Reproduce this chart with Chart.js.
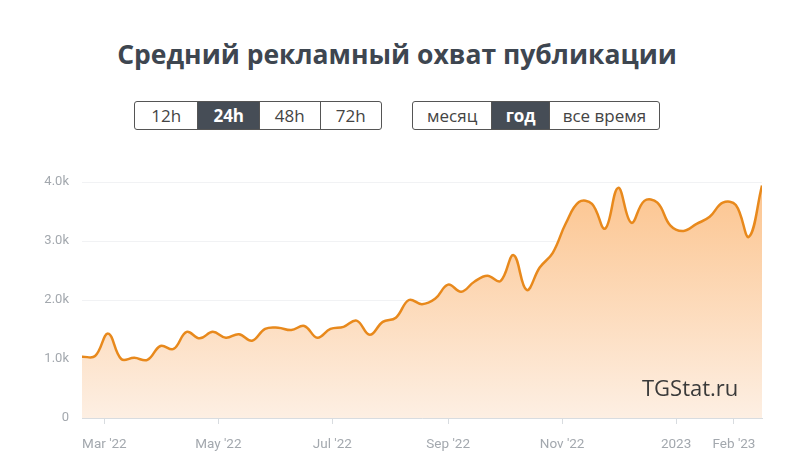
<!DOCTYPE html>
<html>
<head>
<meta charset="utf-8">
<script src="https://cdn.jsdelivr.net/npm/chart.js@4"></script>
<style>
  body { margin: 0; background: #fff; font-family: "Open Sans", sans-serif; }
  #wrap { position: relative; width: 794px; height: 475px; overflow: hidden; }
  #title { position: absolute; left: 0; width: 794px; top: 36px; text-align: center;
           font-size: 26.5px; font-weight: 700; color: #3e4650; }
  .group { position: absolute; top: 101px; height: 29px; display: flex;
           border: 1px solid #555; border-radius: 3px; box-sizing: border-box; overflow: hidden; }
  .group div { display: flex; align-items: center; justify-content: center; font-size: 17px;
               color: #444; border-left: 1px solid #555; box-sizing: border-box; }
  .group div:first-child { border-left: none; }
  .group div.on { background: #464d56; color: #fff; font-weight: 700; }
  #mark { position: absolute; left: 642px; top: 372px; font-size: 22px; color: #3a3a3a; z-index: 2; }
  canvas { position: absolute; left: 0; top: 0; }
</style>
</head>
<body>
<div id="wrap">
  <div id="title">Средний рекламный охват публикации</div>
  <div class="group" style="left:134px;width:248px">
    <div style="width:63px">12h</div><div class="on" style="width:62px">24h</div><div style="width:61px">48h</div><div style="width:62px">72h</div>
  </div>
  <div class="group" style="left:412px;width:248px">
    <div style="width:79px">месяц</div><div class="on" style="width:58px">год</div><div style="width:111px">все время</div>
  </div>
  <div id="mark">TGStat.ru</div>
  <canvas id="myChart" width="794" height="475"></canvas>
</div>
<script>
// weekly data, first week starts 2022-02-17
var startDate = '2022-02-17';
var reach = [1040, 1050, 1430, 1000, 1020, 985, 1220, 1170, 1460, 1350, 1460, 1360, 1420, 1310,
  1510, 1530, 1490, 1560, 1360, 1510, 1545, 1650, 1410, 1630, 1700, 2000, 1930, 2020, 2260, 2140,
  2310, 2410, 2320, 2760, 2170, 2550, 2800, 3300, 3660, 3630, 3210, 3900, 3310, 3680, 3650, 3260,
  3170, 3290, 3410, 3650, 3610, 3070, 3940];
var tickDates = ['2022-03-01', '2022-05-01', '2022-07-01', '2022-09-01', '2022-11-01', '2023-01-01', '2023-02-01'];
var tickLabels = ["Mar '22", "May '22", "Jul '22", "Sep '22", "Nov '22", "2023", "Feb '23"];
var yTicks = [0, 1000, 2000, 3000, 4000];
var yLabels = ['0', '1.0k', '2.0k', '3.0k', '4.0k'];

function dayNum(s) {
  return (Date.parse(s) - Date.parse('2022-01-01')) / 86400000;
}
var day0 = dayNum(startDate);
var points = reach.map(function (v, i) { return { x: day0 + i * 7, y: v }; });
var tickDays = tickDates.map(dayNum);

var ctx = document.getElementById('myChart').getContext('2d');
var myChart = new Chart(ctx, {
  type: 'line',
  data: {
    datasets: [{
      data: points,
      borderColor: '#e8891c',
      borderWidth: 2.5,
      pointRadius: 0,
      tension: 0.4,
      fill: 'origin',
      backgroundColor: function (c) {
        var a = c.chart.chartArea;
        if (!a) return 'rgba(252,200,150,0.6)';
        var g = c.chart.ctx.createLinearGradient(0, a.top, 0, a.bottom);
        g.addColorStop(0, '#fcc48e');
        g.addColorStop(1, '#fdefe3');
        return g;
      }
    }]
  },
  options: {
    responsive: false,
    animation: false,
    layout: { padding: { left: 0, right: 32, top: 182, bottom: 0 } },
    plugins: { legend: { display: false }, tooltip: { enabled: false } },
    scales: {
      x: {
        type: 'linear',
        min: day0,
        max: day0 + (reach.length - 1) * 7,
        afterBuildTicks: function (s) { s.ticks = tickDays.map(function (d) { return { value: d }; }); },
        afterFit: function (s) { s.height = 57; },
        border: { display: true, color: '#d8dce0' },
        grid: { drawOnChartArea: false, drawTicks: true, tickLength: 6, color: '#d8dce0' },
        ticks: {
          autoSkip: false, maxRotation: 0, padding: 13,
          color: '#a3a8ae', font: { family: 'Roboto', size: 13.5 },
          callback: function (v, i) { return tickLabels[i]; }
        }
      },
      y: {
        min: 0,
        max: 4000,
        afterBuildTicks: function (s) { s.ticks = yTicks.map(function (v) { return { value: v }; }); },
        afterFit: function (s) { s.width = 82; },
        border: { display: false },
        grid: { drawTicks: false, color: '#f1f2f4' },
        ticks: {
          padding: 13,
          color: '#a3a8ae', font: { family: 'Roboto', size: 13 },
          callback: function (v, i) { return yLabels[i]; }
        }
      }
    }
  }
});
</script>
</body>
</html>
